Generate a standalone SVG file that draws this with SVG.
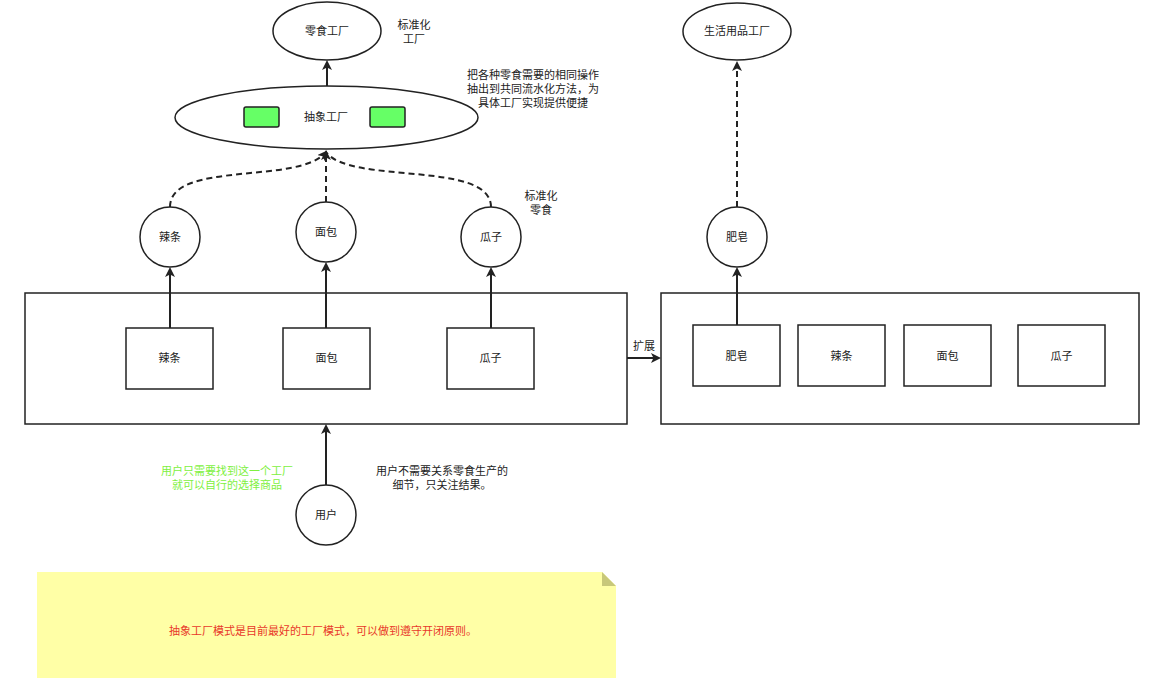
<svg xmlns="http://www.w3.org/2000/svg" width="1153" height="678" viewBox="0 0 1153 678">
<style>
text{font-family:"Liberation Sans","Noto Sans CJK SC",sans-serif;font-size:11px;fill:#222;text-anchor:middle;dominant-baseline:central}
.sh{fill:#fff;stroke:#222;stroke-width:1.5}
.ln{fill:none;stroke:#222;stroke-width:2}
.ds{fill:none;stroke:#222;stroke-width:2;stroke-dasharray:6 4}
</style>
<defs>
<marker id="ah" markerWidth="10" markerHeight="10" refX="8" refY="5" orient="auto" markerUnits="userSpaceOnUse" viewBox="0 0 10 10">
<path d="M0,0 L10,5 L0,10 L2.5,5 Z" fill="#222"/>
</marker>
</defs>
<rect width="1153" height="678" fill="#fff"/>
<g id="note">
<path d="M37,572 H602 L616,586 V678 H37 Z" fill="#ffffa6"/>
<path d="M602,572 L616,586 H602 Z" fill="#c8c87a"/>
<text x="323" y="631" style="fill:#e8382a">抽象工厂模式是目前最好的工厂模式，可以做到遵守开闭原则。</text>
</g>
<g id="left-box"><rect class="sh" x="25" y="293" width="602" height="131"/></g>
<g id="right-box"><rect class="sh" x="661" y="293" width="478" height="131"/></g>
<g id="connectors">
<line class="ln" x1="327" y1="86" x2="327" y2="62" marker-end="url(#ah)"/>
<path class="ds" d="M170,207 C170,160 300,185 326,152" marker-end="url(#ah)"/>
<line class="ds" x1="326" y1="202" x2="326" y2="152" marker-end="url(#ah)"/>
<path class="ds" d="M491,207 C491,160 350,185 326,152"/>
<line class="ln" x1="170" y1="328" x2="170" y2="269" marker-end="url(#ah)"/>
<line class="ln" x1="326" y1="328" x2="326" y2="264" marker-end="url(#ah)"/>
<line class="ln" x1="491" y1="328" x2="491" y2="269" marker-end="url(#ah)"/>
<line class="ln" x1="326" y1="485" x2="326" y2="426" marker-end="url(#ah)"/>
<line class="ln" x1="627" y1="358" x2="659" y2="358" marker-end="url(#ah)"/>
<line class="ln" x1="737" y1="325" x2="737" y2="269" marker-end="url(#ah)"/>
<line class="ds" x1="737" y1="207" x2="737" y2="63" marker-end="url(#ah)"/>
<text x="644" y="346">扩展</text>
</g>
<g id="snack-factory"><ellipse class="sh" cx="327" cy="31" rx="54" ry="29"/><text x="327" y="31">零食工厂</text></g>
<g id="label-std-factory"><text x="414" y="25">标准化</text><text x="414" y="39">工厂</text></g>
<g id="abstract-factory">
<ellipse class="sh" cx="326.5" cy="117.5" rx="151.5" ry="31.5"/>
<rect x="244" y="107" width="35" height="20" rx="2" fill="#66ff66" stroke="#222" stroke-width="1.5"/>
<rect x="370" y="107" width="35" height="20" rx="2" fill="#66ff66" stroke="#222" stroke-width="1.5"/>
<text x="326" y="117">抽象工厂</text>
</g>
<g id="label-abstract"><text x="533" y="75">把各种零食需要的相同操作</text><text x="533" y="89">抽出到共同流水化方法，为</text><text x="533" y="103">具体工厂实现提供便捷</text></g>
<g id="c-latiao"><circle class="sh" cx="170" cy="237" r="30"/><text x="170" y="237">辣条</text></g>
<g id="c-mianbao"><circle class="sh" cx="326" cy="232" r="30"/><text x="326" y="232">面包</text></g>
<g id="c-guazi"><circle class="sh" cx="491" cy="237" r="30"/><text x="491" y="237">瓜子</text></g>
<g id="label-std-snack"><text x="541" y="196">标准化</text><text x="541" y="210">零食</text></g>
<g id="r-latiao"><rect class="sh" x="126" y="328" width="87" height="61"/><text x="169.5" y="358">辣条</text></g>
<g id="r-mianbao"><rect class="sh" x="283" y="328" width="87" height="61"/><text x="326.5" y="358">面包</text></g>
<g id="r-guazi"><rect class="sh" x="447" y="328" width="87" height="61"/><text x="490.5" y="358">瓜子</text></g>
<g id="r2-feizao"><rect class="sh" x="693" y="325" width="87" height="61"/><text x="736.5" y="356">肥皂</text></g>
<g id="r2-latiao"><rect class="sh" x="798" y="325" width="87" height="61"/><text x="841.5" y="356">辣条</text></g>
<g id="r2-mianbao"><rect class="sh" x="904" y="325" width="87" height="61"/><text x="947.5" y="356">面包</text></g>
<g id="r2-guazi"><rect class="sh" x="1018" y="325" width="87" height="61"/><text x="1061.5" y="356">瓜子</text></g>
<g id="c-feizao"><ellipse class="sh" cx="737" cy="237" rx="30" ry="30"/><text x="737" y="237">肥皂</text></g>
<g id="daily-factory"><ellipse class="sh" cx="737" cy="31.5" rx="54" ry="28.5"/><text x="737" y="31">生活用品工厂</text></g>
<g id="user"><circle class="sh" cx="326" cy="515" r="30"/><text x="326" y="515">用户</text></g>
<g id="label-green"><text x="227" y="471" style="fill:#80f040">用户只需要找到这一个工厂</text><text x="227" y="485" style="fill:#80f040">就可以自行的选择商品</text></g>
<g id="label-user"><text x="442" y="471">用户不需要关系零食生产的</text><text x="442" y="485">细节，只关注结果。</text></g>
</svg>
